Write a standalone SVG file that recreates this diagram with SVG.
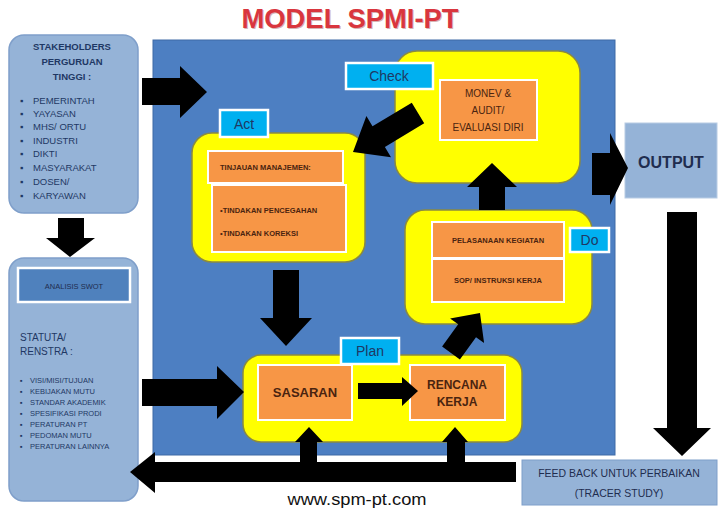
<svg xmlns="http://www.w3.org/2000/svg" width="719" height="510" viewBox="0 0 719 510">
<style>
text{font-family:"Liberation Sans",Arial,sans-serif}
.side{fill:#95b3d7;stroke:#7f9fca;stroke-width:1.5}
.navy{fill:#1f3864}
.ylw{fill:#ffff00;stroke:#8a8a40;stroke-width:1.5}
.org{fill:#f79646;stroke:#ffffff;stroke-width:2}
.lbl{fill:#00b0f0;stroke:#ffffff;stroke-width:2.5}
.lt{fill:#1f3864;font-size:14px;text-anchor:middle}
.ot{fill:#4a2410;font-weight:bold}
.blk{fill:#000000}
.sm{font-size:9.5px;fill:#1f3864}
.xs{font-size:7.5px;fill:#1f3864}
</style>
<rect width="719" height="510" fill="#ffffff"/>
<g id="title"><text x="351" y="29" text-anchor="middle" font-size="27" font-weight="bold" fill="#8a2a2e" opacity="0.35" textLength="217" lengthAdjust="spacingAndGlyphs">MODEL SPMI-PT</text><text x="350" y="28" text-anchor="middle" font-size="27" font-weight="bold" fill="#d9363e" textLength="217" lengthAdjust="spacingAndGlyphs">MODEL SPMI-PT</text></g>
<g id="background"><rect x="153" y="40" width="462" height="415" fill="#4d7fc2" stroke="#3e6aa6" stroke-width="1"/></g>
<g id="stakeholders">
<rect class="side" x="9" y="35" width="129" height="178" rx="15"/>
<text x="72" y="50" text-anchor="middle" font-size="9.5" font-weight="bold" class="navy">STAKEHOLDERS</text>
<text x="72" y="65" text-anchor="middle" font-size="9.5" font-weight="bold" class="navy">PERGURUAN</text>
<text x="72" y="80" text-anchor="middle" font-size="9.5" font-weight="bold" class="navy">TINGGI :</text>
<g class="sm">
<text x="20" y="104">▪</text><text x="33" y="104">PEMERINTAH</text>
<text x="20" y="117">▪</text><text x="33" y="117">YAYASAN</text>
<text x="20" y="130">▪</text><text x="33" y="130">MHS/ ORTU</text>
<text x="20" y="144">▪</text><text x="33" y="144">INDUSTRI</text>
<text x="20" y="157">▪</text><text x="33" y="157">DIKTI</text>
<text x="20" y="171">▪</text><text x="33" y="171">MASYARAKAT</text>
<text x="20" y="185">▪</text><text x="33" y="185">DOSEN/</text>
<text x="20" y="199">▪</text><text x="33" y="199">KARYAWAN</text>
</g>
</g>
<g id="renstra">
<rect class="side" x="9" y="258" width="129" height="243" rx="15"/>
<rect x="18" y="268" width="112" height="34" fill="#4f81bd" stroke="#ffffff" stroke-width="2.5"/>
<text x="74" y="289" text-anchor="middle" font-size="7.5" fill="#1f2d4f">ANALISIS SWOT</text>
<text x="20" y="341" font-size="10" class="navy">STATUTA/</text>
<text x="20" y="355" font-size="10" class="navy">RENSTRA :</text>
<g class="xs">
<text x="20" y="383">▪</text><text x="30" y="383">VISI/MISI/TUJUAN</text>
<text x="20" y="394">▪</text><text x="30" y="394">KEBIJAKAN MUTU</text>
<text x="20" y="405">▪</text><text x="30" y="405">STANDAR AKADEMIK</text>
<text x="20" y="416">▪</text><text x="30" y="416">SPESIFIKASI PRODI</text>
<text x="20" y="427">▪</text><text x="30" y="427">PERATURAN PT</text>
<text x="20" y="438">▪</text><text x="30" y="438">PEDOMAN MUTU</text>
<text x="20" y="449">▪</text><text x="30" y="449">PERATURAN LAINNYA</text>
</g>
</g>
<g id="check">
<rect class="ylw" x="395" y="51" width="185" height="132" rx="22"/>
<rect class="org" x="440" y="80" width="97" height="60"/>
<text x="488" y="97" text-anchor="middle" font-size="10" fill="#4a2410">MONEV &amp;</text>
<text x="488" y="114" text-anchor="middle" font-size="10" fill="#4a2410">AUDIT/</text>
<text x="488" y="131" text-anchor="middle" font-size="10" fill="#4a2410">EVALUASI DIRI</text>
<rect class="lbl" x="346" y="63" width="87" height="26"/>
<text class="lt" x="389" y="81">Check</text>
</g>
<g id="act">
<rect class="ylw" x="192" y="133" width="173" height="129" rx="20"/>
<rect class="org" x="208" y="151" width="135" height="32"/>
<text class="ot" x="220" y="170" font-size="7.5">TINJAUAN MANAJEMEN:</text>
<rect class="org" x="212" y="185" width="134" height="67"/>
<text class="ot" x="220" y="213" font-size="7.5">•TINDAKAN PENCEGAHAN</text>
<text class="ot" x="220" y="236" font-size="7.5">•TINDAKAN KOREKSI</text>
<rect class="lbl" x="220" y="110" width="48" height="27"/>
<text class="lt" x="244" y="129">Act</text>
</g>
<g id="do">
<rect class="ylw" x="405" y="210" width="187" height="114" rx="20"/>
<rect class="org" x="432" y="222" width="132" height="36"/>
<text class="ot" x="498" y="243" font-size="7.5" text-anchor="middle">PELASANAAN KEGIATAN</text>
<rect class="org" x="432" y="259" width="132" height="43"/>
<text class="ot" x="498" y="283" font-size="7.5" text-anchor="middle">SOP/ INSTRUKSI KERJA</text>
<rect class="lbl" x="570" y="228" width="39" height="24"/>
<text class="lt" x="589.5" y="245">Do</text>
</g>
<g id="plan">
<rect class="ylw" x="243" y="355" width="279" height="87" rx="18"/>
<rect class="org" x="258" y="365" width="94" height="55"/>
<text class="ot" x="305" y="397" font-size="13" text-anchor="middle">SASARAN</text>
<rect class="org" x="410" y="365" width="95" height="55"/>
<text class="ot" x="457" y="389" font-size="12" text-anchor="middle">RENCANA</text>
<text class="ot" x="457" y="406" font-size="12" text-anchor="middle">KERJA</text>
<rect class="lbl" x="341" y="338" width="58" height="26"/>
<text class="lt" x="370" y="356">Plan</text>
</g>
<g id="output">
<rect x="625" y="123" width="92" height="75" fill="#95b3d7" stroke="#b8cce4" stroke-width="1"/>
<text x="671" y="168" text-anchor="middle" font-size="16" font-weight="bold" fill="#1f2d4f">OUTPUT</text>
</g>
<g id="feedback">
<rect x="522" y="460" width="195" height="45" fill="#95b3d7" stroke="#7f9fca" stroke-width="1"/>
<text x="619" y="477" text-anchor="middle" font-size="10.5" fill="#1f2d4f">FEED BACK UNTUK PERBAIKAN</text>
<text x="619" y="497" text-anchor="middle" font-size="10.5" fill="#1f2d4f">(TRACER STUDY)</text>
</g>
<g id="website"><text x="357" y="505" text-anchor="middle" font-size="16" fill="#111111" textLength="139" lengthAdjust="spacingAndGlyphs">www.spm-pt.com</text></g>
<g id="connectors" class="blk">
<polygon points="142,78 180,78 180,66 207,92 180,118 180,105 142,105"/>
<polygon points="58,218 84,218 84,238 95,238 70,257 46,238 58,238"/>
<polygon points="142,379 217,379 217,366 244,392 217,419 217,406 142,406"/>
<polygon points="411.8,102.7 372.5,126.3 366.4,116 353,152 391,157.2 384.9,146.9 424.2,123.3"/>
<polygon points="273,270 299,270 299,318 312,318 286,346 260,318 273,318"/>
<polygon points="479,210 479,187 467,187 492,163 517,187 505,187 505,210"/>
<polygon points="358,383 402,383 402,377 418,391 402,406 402,399 358,399"/>
<polygon points="442.1,346.5 458.2,324.3 450.1,318.5 480,313 484.1,343.1 476,337.3 459.9,359.5"/>
<polygon points="592,153 610,153 610,133 628,168 610,205 610,195 592,195"/>
<polygon points="667,212 697,212 697,428 711,428 682,456 653,428 667,428"/>
<polygon points="516,462 155,462 155,452 130,472 155,493 155,482 516,482"/>
<polygon points="300,462 300,442 295,442 309,427 323,442 317,442 317,462"/>
<polygon points="447,462 447,442 442,442 455,427 468,442 465,442 465,462"/>
</g>
</svg>
